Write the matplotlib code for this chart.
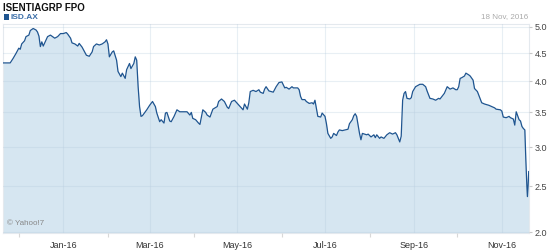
import matplotlib
matplotlib.use("Agg")
import matplotlib.pyplot as plt
import numpy as np
from matplotlib.patches import Rectangle
from matplotlib.ticker import FixedLocator, FuncFormatter

plt.rcParams['font.family'] = ['Liberation Sans', 'DejaVu Sans']

title = "ISENTIAGRP FPO"
ticker = "ISD.AX"
as_of = "18 Nov, 2016"
start = np.datetime64('2015-11-20')

# days since start, closing price (A$)
days = [0, 5, 7, 9, 11, 12, 13, 15, 16, 18, 19, 21, 23, 24, 25, 26, 27, 28, 30, 31,
        33, 35, 36, 38, 40, 42, 44, 45, 47, 48, 50, 52, 53, 55, 56, 58, 60, 62, 63, 65,
        67, 69, 71, 72, 73, 74, 76, 77, 79, 80, 82, 83, 85, 86, 88, 89, 91, 92, 93, 94,
        95, 96, 97, 100, 102, 104, 106, 107, 109, 110, 112, 113, 114, 116, 117, 119, 121, 123, 125, 128,
        130, 131, 132, 134, 136, 137, 139, 141, 142, 144, 146, 149, 150, 152, 154, 156, 157, 159, 161, 163,
        165, 167, 168, 170, 171, 172, 174, 176, 178, 179, 181, 182, 183, 185, 188, 190, 192, 194, 196, 197,
        199, 201, 202, 205, 206, 207, 208, 210, 211, 213, 215, 216, 217, 218, 219, 221, 222, 224, 225, 226,
        228, 229, 230, 232, 233, 234, 236, 238, 240, 241, 243, 244, 245, 246, 248, 249, 250, 253, 254, 256,
        258, 259, 260, 262, 263, 265, 267, 269, 271, 273, 274, 276, 277, 278, 279, 280, 281, 283, 284, 285,
        287, 290, 292, 294, 295, 297, 299, 301, 303, 304, 306, 307, 309, 310, 311, 313, 315, 316, 317, 318,
        319, 321, 322, 324, 325, 327, 328, 330, 331, 333, 335, 338, 340, 342, 343, 346, 347, 348, 350, 352,
        353, 355, 356, 357, 358, 359, 360, 361, 362, 363, 363.7, 364.4, 364.8, 365.3, 365.7]
price = [4.32, 4.32, 4.40, 4.49, 4.59, 4.57, 4.67, 4.73, 4.81, 4.84, 4.93, 4.97, 4.94, 4.90, 4.82, 4.62, 4.71, 4.63, 4.75, 4.81,
         4.84, 4.80, 4.78, 4.81, 4.87, 4.87, 4.89, 4.86, 4.78, 4.69, 4.67, 4.63, 4.68, 4.61, 4.56, 4.46, 4.44, 4.52, 4.62, 4.67,
         4.65, 4.67, 4.71, 4.75, 4.67, 4.43, 4.52, 4.54, 4.37, 4.17, 4.08, 4.14, 4.05, 4.20, 4.31, 4.22, 4.31, 4.43, 4.37, 3.91,
         3.59, 3.44, 3.45, 3.54, 3.61, 3.67, 3.59, 3.49, 3.36, 3.39, 3.34, 3.49, 3.50, 3.37, 3.36, 3.44, 3.54, 3.51, 3.51, 3.51,
         3.46, 3.50, 3.41, 3.39, 3.34, 3.32, 3.54, 3.50, 3.46, 3.43, 3.55, 3.59, 3.67, 3.71, 3.67, 3.58, 3.56, 3.67, 3.69, 3.64,
         3.59, 3.54, 3.63, 3.55, 3.65, 3.83, 3.85, 3.83, 3.86, 3.82, 3.80, 3.87, 3.91, 3.84, 3.82, 3.91, 3.98, 3.99, 3.89, 3.90,
         3.87, 3.91, 3.89, 3.89, 3.86, 3.75, 3.70, 3.70, 3.67, 3.64, 3.65, 3.63, 3.69, 3.56, 3.44, 3.43, 3.49, 3.44, 3.33, 3.19,
         3.12, 3.14, 3.19, 3.16, 3.21, 3.24, 3.23, 3.24, 3.25, 3.33, 3.39, 3.45, 3.48, 3.44, 3.19, 3.10, 3.19, 3.17, 3.18, 3.14,
         3.17, 3.13, 3.17, 3.12, 3.14, 3.12, 3.17, 3.20, 3.18, 3.20, 3.17, 3.07, 3.15, 3.69, 3.80, 3.83, 3.72, 3.71, 3.73, 3.83,
         3.91, 3.95, 3.95, 3.91, 3.84, 3.72, 3.71, 3.69, 3.72, 3.71, 3.77, 3.80, 3.91, 3.89, 3.87, 3.89, 3.86, 3.86, 3.91, 4.05,
         4.06, 4.09, 4.14, 4.11, 4.09, 4.02, 3.88, 3.83, 3.77, 3.65, 3.63, 3.61, 3.59, 3.57, 3.55, 3.54, 3.52, 3.43, 3.42, 3.44,
         3.42, 3.40, 3.31, 3.51, 3.45, 3.39, 3.37, 3.29, 3.26, 3.24, 2.83, 2.51, 2.38, 2.51, 2.68]

major_months = ['2016-01-01', '2016-03-01', '2016-05-01', '2016-07-01', '2016-09-01', '2016-11-01']
major_labels = ['Jan-16', 'Mar-16', 'May-16', 'Jul-16', 'Sep-16', 'Nov-16']
minor_months = ['2015-12-01', '2016-02-01', '2016-04-01', '2016-06-01', '2016-08-01', '2016-10-01']
yticks = [2.0, 2.5, 3.0, 3.5, 4.0, 4.5, 5.0]

line_col = '#1f5590'
fill_col = '#d6e6f1'

fig = plt.figure(figsize=(5.5, 2.5), dpi=100)
ax = fig.add_axes([3 / 550, 17 / 250, 526 / 550, 209 / 250])

# the source axis is compressed like a fourth root, not linear
ax.set_yscale('function', functions=(lambda v: np.power(np.clip(v, 1e-9, None), 0.25),
                                     lambda v: np.power(v, 4)))

ax.fill_between(days, price, 1.9, color=fill_col, lw=0, zorder=1)
ax.plot(days, price, color=line_col, lw=0.9, zorder=3)

ax.set_xlim(0, 365.9)
ax.set_ylim(1.99, 5.06)

xmaj = [(np.datetime64(d) - start).astype(int) for d in major_months]
xmin = [(np.datetime64(d) - start).astype(int) for d in minor_months]
ax.xaxis.set_major_locator(FixedLocator(xmaj))
ax.xaxis.set_minor_locator(FixedLocator(xmin))
ax.set_xticklabels(major_labels)
ax.tick_params(axis='x', which='major', length=0, pad=6, labelsize=6.5, labelcolor='#333333')
ax.tick_params(axis='x', which='minor', length=3, color='#d8d8d8', width=0.8)

ax.yaxis.tick_right()
ax.yaxis.set_major_locator(FixedLocator(yticks))
ax.yaxis.set_minor_locator(FixedLocator([]))
ax.yaxis.set_major_formatter(FuncFormatter(lambda v, p: "%.1f" % v))
ax.tick_params(axis='y', length=2, color='#c8c8c8', pad=2, labelsize=6.5, labelcolor='#444444')

ax.grid(True, which='major', color='#b4cadd', alpha=0.3, lw=0.8, zorder=2)
ax.set_axisbelow(False)
for s in ax.spines.values():
    s.set_color('#e4e9ee')
    s.set_linewidth(0.8)

fig.text(3 / 550, 1 - 8 / 250, title, fontsize=7.0, fontweight='bold', color='#111111', va='center', ha='left')
fig.patches.append(Rectangle((4 / 550, 1 - 19.5 / 250), 5 / 550, 5 / 250, transform=fig.transFigure,
                             facecolor=line_col, edgecolor='none'))
fig.text(10.5 / 550, 1 - 17 / 250, ticker, fontsize=6, fontweight='bold', color='#3b6ea8', va='center', ha='left')
fig.text(528 / 550, 1 - 17 / 250, as_of, fontsize=5.8, color='#aaaaaa', va='center', ha='right')
ax.text(0.008, 0.03, u"\u00A9 Yahoo!7", transform=ax.transAxes, fontsize=5.8, color='#888888', va='bottom', ha='left')

fig.savefig('out.png', dpi=100)
